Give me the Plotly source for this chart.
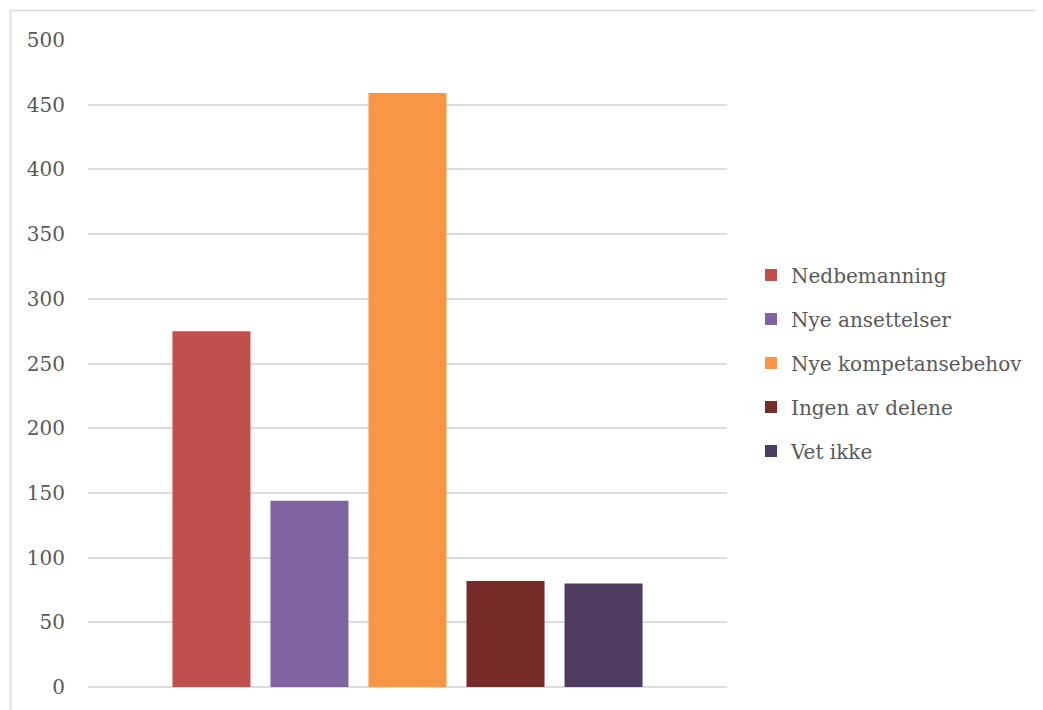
import plotly.graph_objects as go

categories = ["Nedbemanning", "Nye ansettelser", "Nye kompetansebehov", "Ingen av delene", "Vet ikke"]
values = [275, 144, 459, 82, 80]
colors = ["#C0504D", "#8064A2", "#F79646", "#772C2A", "#4D3B62"]
ytick_vals = [0, 50, 100, 150, 200, 250, 300, 350, 400, 450, 500]

FONT = "DejaVu Serif"
OFF = 8  # page body margin
fig = go.Figure()
for i, (name, v, c) in enumerate(zip(categories, values, colors)):
    fig.add_trace(go.Bar(x=[""], y=[v], name=name, marker=dict(color=c, line=dict(width=0)),
                         legendgroup=f"g{i}"))

W, H = 1043, 710
px_l, px_r, px_t, px_b = 88, 727, 40, 687  # target plot area in page pixels
l = px_l - OFF
t = px_t - OFF
r = W - (px_r - OFF)
b = H - (px_b - OFF)
pw, ph = W - l - r, H - t - b

def xp(px):
    return (px - OFF - l) / pw

def yp(py):
    return (H - b - (py - OFF)) / ph

fig.update_layout(
    width=W, height=H,
    margin=dict(l=l, r=r, t=t, b=b),
    paper_bgcolor="white", plot_bgcolor="white",
    barmode="group", bargap=0.233, bargroupgap=0.204,
    font=dict(family=FONT, size=20, color="#595959"),
    showlegend=True,
    legend=dict(x=xp(751), xanchor="left", y=yp(363), yanchor="middle",
                font=dict(family=FONT, size=20, color="#595959"), tracegroupgap=15,
                itemwidth=30, bgcolor="rgba(0,0,0,0)"),
    xaxis=dict(showticklabels=False, showgrid=False, zeroline=False, showline=False),
    yaxis=dict(range=[0, 500], tickvals=ytick_vals, showgrid=True, gridcolor="#DCDCDC", gridwidth=1.5,
               zeroline=True, zerolinecolor="#DCDCDC", zerolinewidth=1.5, showline=False,
               ticks="", ticklabelstandoff=22, tickfont=dict(family=FONT, size=20, color="#595959")),
)
# outer chart border (partially visible in reference)
fig.add_shape(type="rect", xref="paper", yref="paper",
              x0=xp(10.5), x1=xp(1070), y0=yp(730), y1=yp(10.5),
              line=dict(color="#D9D9D9", width=1.5), fillcolor="rgba(0,0,0,0)", layer="below")
fig.write_html("out.html")
